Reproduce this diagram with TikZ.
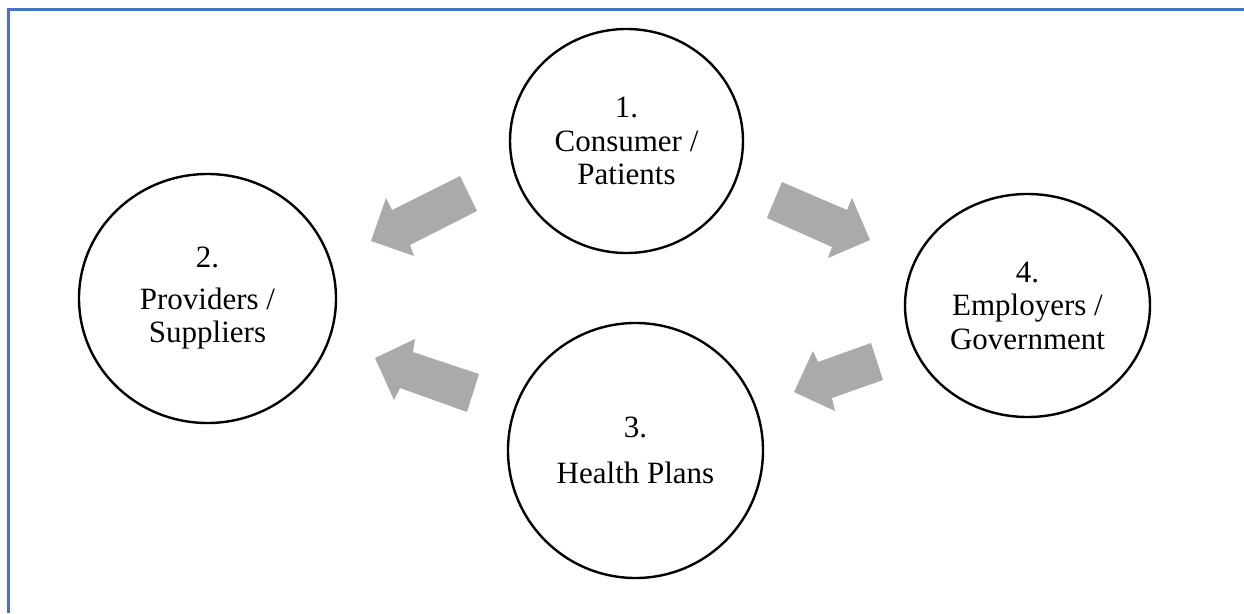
\documentclass[tikz,border=0pt]{standalone}
\usepackage{fontspec}
\setmainfont{Liberation Serif}
\usetikzlibrary{shapes.geometric}
\definecolor{frameblue}{HTML}{4472C4}
\definecolor{arrowgray}{HTML}{AAAAAA}
\begin{document}
\begin{tikzpicture}[x=1pt,y=-1pt,
  party/.style={ellipse, draw=black, line width=2.4pt, inner sep=0pt, align=center,
    font=\fontsize{31}{33.5}\selectfont},
  blockarrow/.style={fill=arrowgray, draw=none}]
\useasboundingbox (0,0) rectangle (1244,613);
\fill[white] (0,0) rectangle (1244,613);
% frame
\coordinate (fTR) at (1244,9);
\coordinate (fTL) at (8,9);
\coordinate (fBL) at (8,613);
\draw[frameblue, line width=3pt] (fTR) -- (fTL) -- (fBL);
% parties
\node[party, minimum width=233pt, minimum height=224pt] (c1) at (626.5,141) {1.\\Consumer /\\Patients};
\node[party, minimum width=257pt, minimum height=249pt] (c2) at (207.5,298.5) {2.\\[8pt]Providers /\\Suppliers};
\node[party, minimum width=255pt, minimum height=255pt] (c3) at (635.5,450.5) {3.\\[12pt]Health Plans};
\node[party, minimum width=245pt, minimum height=223pt] (c4) at (1027.5,305.5) {4.\\Employers /\\Government};
% block arrows
% 1 -> 2
\fill[blockarrow] (460,176) -- (477,211) -- (410,245) -- (414,256) -- (371,241) -- (386,198) -- (392,210) -- cycle;
% 1 -> 4
\fill[blockarrow] (782,182) -- (847,210) -- (852,198) -- (870,240) -- (828,258) -- (832,247) -- (767,218) -- cycle;
% 4 -> 3
\fill[blockarrow] (871,343) -- (883,380) -- (832,398) -- (835,411) -- (794,392) -- (813,351) -- (818,362) -- cycle;
% 3 -> 2
\fill[blockarrow] (479,374) -- (467,412) -- (400,388) -- (394,400) -- (375,358) -- (415,339) -- (413,352) -- cycle;
\end{tikzpicture}
\end{document}
